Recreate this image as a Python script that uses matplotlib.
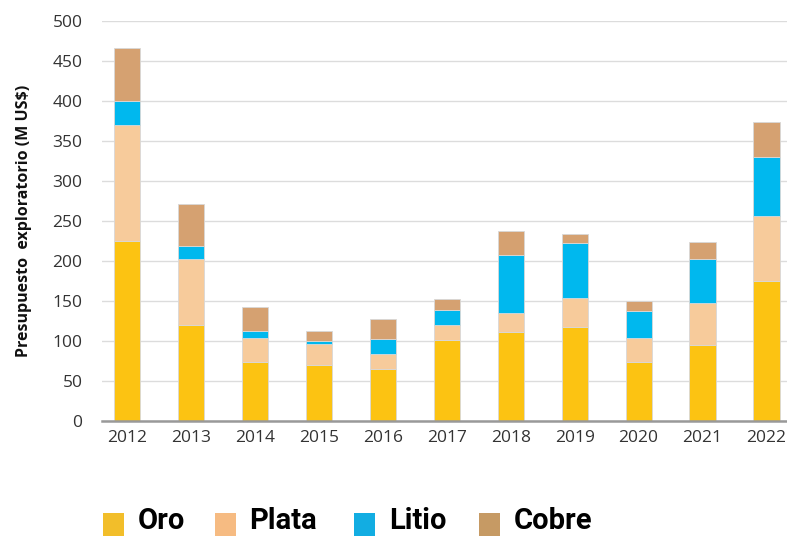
import matplotlib
matplotlib.use("Agg")
from matplotlib import pyplot as plt
from matplotlib.patches import Rectangle

years = ["2012", "2013", "2014", "2015", "2016", "2017",
         "2018", "2019", "2020", "2021", "2022"]
oro = [225, 120, 74, 70, 65, 101, 111, 118, 73, 95, 175]
plata = [145, 82, 30, 26, 19, 19, 24, 36, 31, 52, 82]
litio = [31, 17, 9, 4, 19, 19, 73, 68, 33, 55, 73]
cobre = [66, 53, 29, 13, 25, 13, 30, 12, 13, 22, 44]

names = ["Oro", "Plata", "Litio", "Cobre"]
bar_colors = ["#FCC312", "#F7CB9B", "#00B8EE", "#D5A171"]
legend_colors = ["#F2BE2A", "#F6BB82", "#12ADE2", "#C69A64"]

plt.rcParams['font.family'] = ['Open Sans', 'DejaVu Sans']

fig = plt.figure(figsize=(7.87, 5.36), dpi=100)
ax = fig.add_axes([0.1296, 0.215, 0.8704, 0.745])

x = list(range(len(years)))
bottom = [0] * len(years)
for vals, col in zip([oro, plata, litio, cobre], bar_colors):
    ax.bar(x, vals, width=0.41, bottom=bottom, color=col,
           edgecolor="#d8d8d8", linewidth=0.6, zorder=3)
    bottom = [b + v for b, v in zip(bottom, vals)]

ax.set_ylim(0, 500)
ax.set_xlim(-0.39, 10.32)
ax.set_yticks(range(0, 501, 50))
ax.set_xticks(x)
ax.set_xticklabels(years)
ax.yaxis.grid(True, color="#dcdcdc", linewidth=1, zorder=0)
ax.tick_params(axis="both", length=0, labelsize=12.5, colors="#333333")
ax.tick_params(axis="y", pad=14)
ax.tick_params(axis="x", pad=7)
for s in ["top", "right", "left"]:
    ax.spines[s].set_visible(False)
ax.spines["bottom"].set_color("#999999")
ax.spines["bottom"].set_linewidth(1.8)
ax.spines["bottom"].set_zorder(4)

ax.set_ylabel("Presupuesto  exploratorio (M US$)", fontsize=11.5,
              fontweight="bold", color="#111111", labelpad=15)

# legend drawn by hand along the bottom edge
W, H = fig.get_size_inches() * fig.dpi
box_x = [103, 215, 354, 479]
text_x = [138, 249, 389, 514]
for n, c, bx, tx in zip(names, legend_colors, box_x, text_x):
    fig.patches.append(Rectangle((bx / W, 0.0), 21 / W, 23 / H,
                                 transform=fig.transFigure, facecolor=c,
                                 edgecolor="none"))
    fig.text(tx / W, 1 / H, n, fontsize=21, fontweight="bold",
             family=["Roboto", "DejaVu Sans"],
             color="#000000", va="bottom", ha="left")

fig.savefig("out.png", dpi=100)
